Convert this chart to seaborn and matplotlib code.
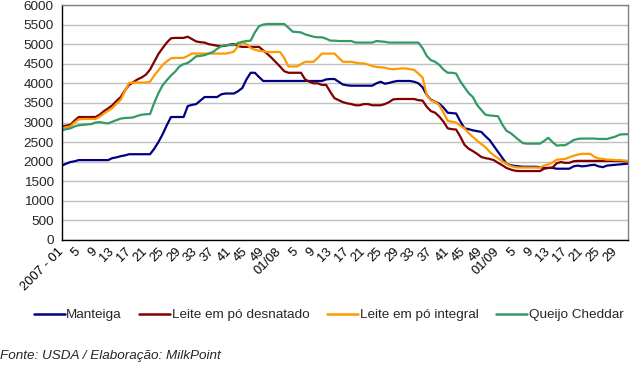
import matplotlib
matplotlib.use("Agg")
import matplotlib.pyplot as plt
import seaborn as sns
import pandas as pd
import numpy as np
from matplotlib.lines import Line2D

# ---- data -------------------------------------------------------------
weeks = ([f"2007-{w:02d}" for w in range(1, 53)] +
         [f"2008-{w:02d}" for w in range(1, 53)] +
         [f"2009-{w:02d}" for w in range(1, 33)])

tick_labels = ["2007 - 01", "5", "9", "13", "17", "21", "25", "29", "33", "37", "41", "45", "49",
               "01/08", "5", "9", "13", "17", "21", "25", "29", "33", "37", "41", "45", "49",
               "01/09", "5", "9", "13", "17", "21", "25", "29"]

manteiga = [1900, 1950, 1990, 2010, 2040, 2040, 2040, 2040, 2040, 2040,
            2040, 2040, 2090, 2110, 2140, 2160, 2190, 2190, 2190, 2190,
            2190, 2190, 2330, 2500, 2700, 2930, 3140, 3140, 3140, 3140,
            3420, 3450, 3470, 3560, 3650, 3650, 3650, 3650, 3720, 3740,
            3740, 3740, 3800, 3880, 4100, 4270, 4270, 4160, 4060, 4060,
            4060, 4060, 4060, 4060, 4060, 4060, 4060, 4060, 4060, 4060,
            4060, 4060, 4060, 4100, 4110, 4110, 4040, 3970, 3950, 3940,
            3940, 3940, 3940, 3940, 3940, 4000, 4040, 3990, 4010, 4040,
            4060, 4060, 4060, 4060, 4040, 4000, 3900, 3700, 3580, 3530,
            3480, 3380, 3250, 3240, 3230, 3030, 2850, 2830, 2800, 2780,
            2760, 2650, 2550, 2400, 2250, 2100, 1950, 1910, 1890, 1880,
            1870, 1870, 1870, 1870, 1860, 1840, 1840, 1840, 1820, 1820,
            1820, 1820, 1880, 1900, 1880, 1890, 1910, 1920, 1880, 1860,
            1900, 1910, 1920, 1930, 1940, 1950]

desnatado = [2900, 2920, 2940, 3050, 3140, 3140, 3140, 3140, 3140, 3200,
             3290, 3360, 3440, 3550, 3650, 3820, 3960, 4030, 4100, 4150,
             4220, 4350, 4550, 4750, 4900, 5040, 5150, 5160, 5160, 5160,
             5190, 5130, 5070, 5050, 5040, 5000, 4980, 4960, 4950, 4960,
             4990, 5000, 4950, 4930, 4930, 4930, 4930, 4930, 4840, 4750,
             4650, 4540, 4430, 4310, 4270, 4270, 4270, 4270, 4100, 4040,
             4000, 4000, 3960, 3960, 3780, 3620, 3570, 3520, 3490, 3470,
             3440, 3440, 3470, 3470, 3440, 3440, 3440, 3470, 3520, 3590,
             3600, 3600, 3600, 3600, 3600, 3570, 3560, 3400, 3290, 3250,
             3150, 3020, 2850, 2830, 2820, 2640, 2430, 2330, 2270, 2200,
             2120, 2090, 2070, 2040, 1970, 1910, 1840, 1800, 1770, 1760,
             1760, 1760, 1760, 1760, 1760, 1820, 1840, 1850, 1960, 1990,
             1970, 1970, 2010, 2020, 2020, 2020, 2020, 2020, 2020, 2020,
             2020, 2020, 2020, 2020, 2010, 2010]

integral = [2860, 2880, 2900, 3000, 3080, 3090, 3090, 3090, 3090, 3150,
            3230, 3300, 3370, 3480, 3580, 3800, 4010, 4020, 4020, 4020,
            4020, 4040, 4200, 4330, 4470, 4560, 4640, 4650, 4650, 4650,
            4700, 4760, 4760, 4760, 4760, 4760, 4760, 4760, 4760, 4760,
            4780, 4810, 4950, 5050, 5000, 4900, 4860, 4830, 4820, 4800,
            4800, 4800, 4800, 4650, 4430, 4430, 4430, 4490, 4550, 4550,
            4550, 4650, 4760, 4760, 4760, 4760, 4650, 4550, 4550, 4550,
            4530, 4510, 4510, 4480, 4440, 4420, 4410, 4400, 4370, 4360,
            4370, 4380, 4380, 4360, 4340, 4250, 4150, 3700, 3560, 3530,
            3440, 3250, 3040, 3020, 3000, 2920, 2850, 2730, 2630, 2540,
            2450, 2370, 2250, 2160, 2090, 2010, 1950, 1890, 1860, 1850,
            1850, 1850, 1850, 1850, 1850, 1900, 1930, 1980, 2050, 2060,
            2070, 2110, 2150, 2180, 2200, 2200, 2200, 2120, 2080, 2070,
            2050, 2050, 2040, 2040, 2030, 2020]

cheddar = [2800, 2830, 2850, 2900, 2930, 2940, 2950, 2960, 3000, 3010,
           2990, 2975, 3020, 3060, 3100, 3115, 3120, 3130, 3170, 3200,
           3210, 3215, 3500, 3750, 3950, 4080, 4200, 4300, 4430, 4490,
           4520, 4600, 4690, 4700, 4720, 4760, 4800, 4880, 4950, 4975,
           4975, 4975, 5030, 5060, 5080, 5090, 5300, 5460, 5500, 5515,
           5515, 5515, 5515, 5515, 5420, 5320, 5310, 5300, 5250, 5220,
           5190, 5175, 5175, 5140, 5090, 5090, 5080, 5080, 5080, 5080,
           5040, 5040, 5040, 5040, 5040, 5080, 5070, 5060, 5040, 5040,
           5040, 5040, 5040, 5040, 5040, 5040, 4900, 4700, 4590, 4550,
           4470, 4350, 4270, 4270, 4250, 4050, 3900, 3750, 3650, 3450,
           3320, 3200, 3180, 3170, 3160, 2950, 2790, 2730, 2640, 2550,
           2470, 2460, 2460, 2460, 2460, 2530, 2610, 2500, 2410, 2420,
           2420, 2480, 2550, 2580, 2590, 2590, 2590, 2590, 2580, 2580,
           2580, 2610, 2640, 2690, 2700, 2700]

series_names = ["Manteiga", "Leite em pó desnatado", "Leite em pó integral", "Queijo Cheddar"]
series_values = [manteiga, desnatado, integral, cheddar]
colors = ["#000080", "#800000", "#FF9900", "#339966"]

# ---- build long frame ---------------------------------------------------
frames = []
for name, vals in zip(series_names, series_values):
    frames.append(pd.DataFrame({"idx": np.arange(len(weeks)), "semana": weeks,
                                "produto": name, "valor": vals}))
df = pd.concat(frames, ignore_index=True)

# ---- plot ----------------------------------------------------------------
sns.set_style("white")
plt.rcParams["font.family"] = ["Liberation Sans", "DejaVu Sans"]
FS = 9.7

fig = plt.figure(figsize=(6.3, 3.65), dpi=100)
ax = fig.add_axes([62 / 630, 1 - 240 / 365, 566 / 630, 235 / 365])

sns.lineplot(data=df, x="idx", y="valor", hue="produto", hue_order=series_names,
             palette=dict(zip(series_names, colors)), linewidth=1.6, ax=ax,
             legend=False, estimator=None)

ax.set_xlim(0, len(weeks) - 1)
ax.set_ylim(0, 6000)
ax.set_yticks(np.arange(0, 6001, 500))
ax.yaxis.grid(True, color="#c0c0c0", linewidth=1)
ax.xaxis.grid(False)
ax.set_axisbelow(True)
ax.set_xlabel("")
ax.set_ylabel("")

ax.set_xticks(np.arange(0, len(weeks), 2), minor=False)
ax.set_xticklabels([""] * len(ax.get_xticks()))
label_pos = np.arange(0, len(weeks), 4)[:len(tick_labels)]
for pos, lab in zip(label_pos, tick_labels):
    ax.text(pos - 1.1, -150, lab, rotation=45, ha="right", va="top",
            rotation_mode="anchor", fontsize=9.3, color="black")

ax.tick_params(axis="x", direction="out", length=4, width=1, color="black", pad=2)
ax.tick_params(axis="y", direction="out", length=4, width=1, color="black",
               labelsize=FS, pad=2)

for s in ["left", "bottom"]:
    ax.spines[s].set_color("black")
    ax.spines[s].set_linewidth(1)
for s in ["top", "right"]:
    ax.spines[s].set_visible(True)
    ax.spines[s].set_color("#808080")
    ax.spines[s].set_linewidth(1)

handles = [Line2D([0], [0], color=c, lw=1.8) for c in colors]
fig.legend(handles, series_names, loc="center", bbox_to_anchor=(328.5 / 630, 1 - 315 / 365),
           ncol=4, frameon=False, fontsize=FS, handlelength=2.3, handletextpad=0.12,
           columnspacing=1.3, borderpad=0, borderaxespad=0)

fig.text(0.0, 1 - 356 / 365, "Fonte: USDA / Elaboração: MilkPoint", fontsize=FS,
         style="italic", ha="left", va="center")

fig.savefig("out.png", dpi=100)
